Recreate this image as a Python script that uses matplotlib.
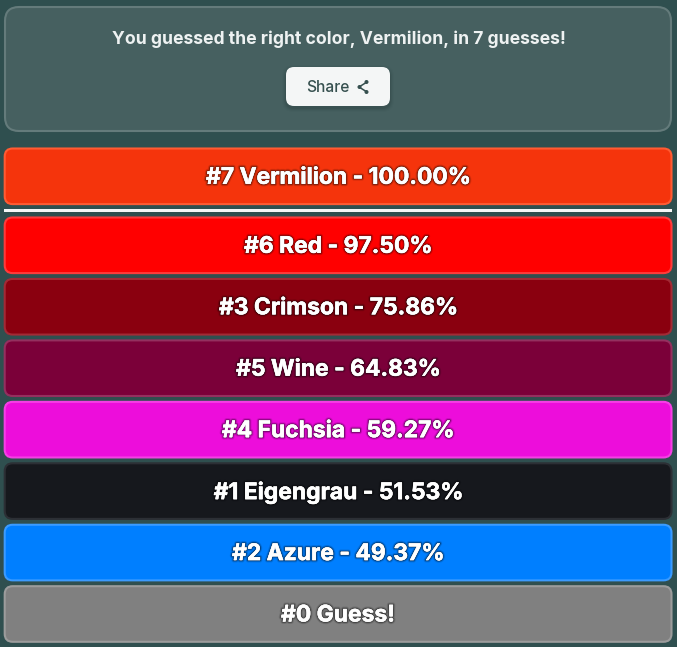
import matplotlib
matplotlib.use('Agg')
import matplotlib.pyplot as plt
import matplotlib.patheffects as pe
from matplotlib.patches import FancyBboxPatch, Rectangle, Circle

plt.rcParams['font.family'] = ['Inter', 'DejaVu Sans']

guess_nums = [7, 6, 3, 5, 4, 1, 2, 0]
names = ['Vermilion', 'Red', 'Crimson', 'Wine', 'Fuchsia', 'Eigengrau', 'Azure', 'Guess!']
scores = [100.00, 97.50, 75.86, 64.83, 59.27, 51.53, 49.37, None]
fills = ['#f5340c', '#ff0000', '#8a000f', '#7b0039', '#ed0ddb', '#16181d', '#007fff', '#808080']
borders = ['#ff5b33', '#ff3b3b', '#a32a35', '#94305f', '#f53fe5', '#2c2f35', '#3b9bff', '#9c9c9c']
title = 'You guessed the right color, Vermilion, in 7 guesses!'

W, H = 677, 647
bg = '#2f4f4f'

fig = plt.figure(figsize=(W / 100, H / 100), dpi=100, facecolor=bg)
ax = fig.add_axes([0, 0, 1, 1])
ax.set_xlim(0, W)
ax.set_ylim(H, 0)
ax.axis('off')


def rbox(x0, y0, x1, y1, r, fc, ec, lw=1.5, z=2):
    p = FancyBboxPatch((x0 + r, y0 + r), x1 - x0 - 2 * r, y1 - y0 - 2 * r,
                       boxstyle='round,pad=%f,rounding_size=%f' % (r, r),
                       fc=fc, ec=ec, lw=lw, zorder=z)
    ax.add_patch(p)
    return p


# top panel
rbox(5, 7, 671, 131, 14, '#466060', '#647b7b')
ax.text(338.5, 39, title, color='#eef2f2', fontsize=12.65, fontweight='bold',
        ha='center', va='center', zorder=4)

# share button
for off, a in [(4, 0.02), (3, 0.03), (2, 0.04), (1, 0.05)]:
    rbox(286 - off, 67 - off + 2, 390 + off, 106 + off + 2, 8 + off, (0, 0, 0, a), 'none', 0, 3)
rbox(286, 67, 390, 106, 8, '#f4f6f6', 'none', 0, 4)
ax.text(327.5, 87.5, 'Share', color='#36504f', fontsize=11.2, fontweight='medium',
        ha='center', va='center', zorder=5)
ax.plot([367, 359, 367], [82, 87, 92], color='#36504f', lw=1.1, zorder=5)
for cx, cy in [(366.5, 82), (359.5, 87), (366.5, 92)]:
    ax.add_patch(Circle((cx, cy), 2.0, fc='#36504f', ec='none', zorder=5))

# divider under the latest guess
ax.add_patch(Rectangle((4, 209), 668, 3, fc='#f6f7f7', ec='none', zorder=2))

shadow = [pe.Stroke(linewidth=3.6, foreground=(0, 0, 0, 0.1)),
          pe.Stroke(linewidth=2.4, foreground=(0, 0, 0, 0.2)),
          pe.Stroke(linewidth=1.2, foreground=(0, 0, 0, 0.4)),
          pe.Stroke(linewidth=0.35, foreground='white'),
          pe.Normal()]

# first row sits above the divider, the rest are evenly stacked
tops = [148.5] + [217.5 + 61.45 * k for k in range(len(names) - 1)]
for k in range(len(names)):
    y0 = tops[k]
    y1 = y0 + 55.6
    rbox(4.7, y0, 671.5, y1, 8, fills[k], borders[k], 1.5)
    if scores[k] is None:
        label = '#%d %s' % (guess_nums[k], names[k])
    else:
        label = '#%d %s - %.2f%%' % (guess_nums[k], names[k], scores[k])
    ax.text(338, (y0 + y1) / 2 + 1.5, label, color='white', fontsize=16.45, fontweight='bold',
            ha='center', va='center', zorder=4, path_effects=shadow)

fig.savefig('out.png', dpi=100, facecolor=bg)
